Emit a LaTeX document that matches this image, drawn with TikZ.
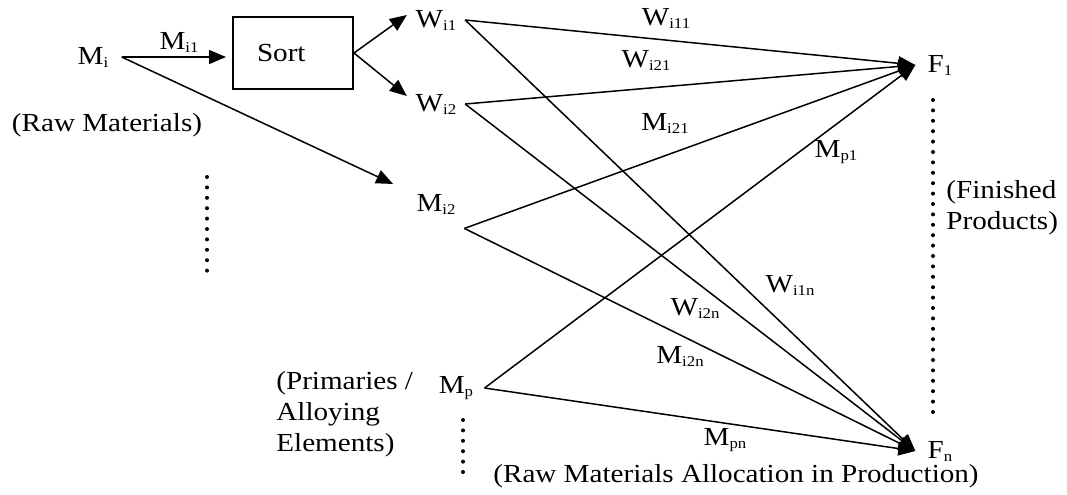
\documentclass[tikz,border=0pt]{standalone}
\usepackage{fontspec}
\setmainfont{Liberation Serif}[FakeStretch=1.12]
\usetikzlibrary{arrows.meta}
\newcommand{\sbs}[1]{\raisebox{-1.5pt}{\fontsize{7.5}{8}\selectfont #1}}

\begin{document}
\begin{tikzpicture}[
    x=0.5pt, y=-0.5pt,
    every node/.style={font=\fontsize{13}{15.5}\selectfont},
    term/.style={inner ysep=2pt, inner xsep=#1},
    term/.default=4.25pt,
    sortbox/.style={draw, line width=1pt, minimum height=36pt, text width=36pt, inner xsep=12pt, align=left},
    arrow/.style={-{Triangle[length=8.5pt, width=7pt]}, line width=0.75pt},
    flow/.style={inner sep=0pt},
    note/.style={align=left, inner sep=0pt},
    dotrow/.style={line width=2pt, line cap=round, dash pattern=on 0pt off 5.2pt},
]
\useasboundingbox (0,0) rectangle (1067,494);

% Raw materials
\node[term=6.5pt] (mi) at (93,57) {M\sbs{i}};
\node[note] (rawmat) at (107,125) {(Raw Materials)};
\node[sortbox] (sort) at (293,53) {Sort};

% Sorted streams
\node[term] (wi1) at (436,20) {W\sbs{i1}};
\node[term] (wi2) at (436,104) {W\sbs{i2}};
\node[term] (mi2) at (436,204) {M\sbs{i2}};
\coordinate (mi2out) at ([yshift=-5pt]mi2.south east);

% Primaries
\node[term=5.5pt] (mp) at (456,388) {M\sbs{p}};
\node[note, anchor=west] (prim) at (276,414) {(Primaries /\\Alloying\\Elements)};

% Finished products
\node[term=6pt] (f1) at (940,65) {F\sbs{1}};
\node[term=6pt] (fn) at (940,451) {F\sbs{n}};
\node[note, anchor=west] (fin) at (946,208) {(Finished\\Products)};
\node[note] (alloc) at (736,476) {(Raw Materials Allocation in Production)};

% Sorting
\draw[arrow, shorten >=3pt] (mi.east) -- (mi.east -| sort.west);
\draw[arrow, shorten >=8pt] (mi.east) -- (mi2);
\draw[arrow] (sort.east) -- ([yshift=2.5pt]wi1.west);
\draw[arrow] (sort.east) -- ([yshift=4pt]wi2.west);

% Allocation
\draw[arrow] (wi1.east) -- (f1.west);
\draw[arrow] (wi2.east) -- (f1.west);
\draw[arrow] (mi2out) -- (f1.west);
\draw[arrow] (mp.east) -- (f1.west);
\draw[arrow] (wi1.east) -- (fn.west);
\draw[arrow] (wi2.east) -- (fn.west);
\draw[arrow] (mi2out) -- (fn.west);
\draw[arrow] (mp.east) -- (fn.west);

% Flow labels
\node[flow] (lmi1) at (179,42) {M\sbs{i1}};
\node[flow] (lwi11) at (666,18) {W\sbs{i11}};
\node[flow] (lwi21) at (646,60) {W\sbs{i21}};
\node[flow] (lmi21) at (665,123) {M\sbs{i21}};
\node[flow] (lmp1) at (836,152) {M\sbs{p1}};
\node[flow] (lwi1n) at (790,285) {W\sbs{i1n}};
\node[flow] (lwi2n) at (695,308) {W\sbs{i2n}};
\node[flow] (lmi2n) at (680,356) {M\sbs{i2n}};
\node[flow] (lmpn) at (725,440) {M\sbs{pn}};

% Dots
\draw[dotrow] (207,177) -- (207,274);
\draw[dotrow] (463,420) -- (463,475);
\draw[dotrow] (933,100) -- (933,415);

\end{tikzpicture}
\end{document}
